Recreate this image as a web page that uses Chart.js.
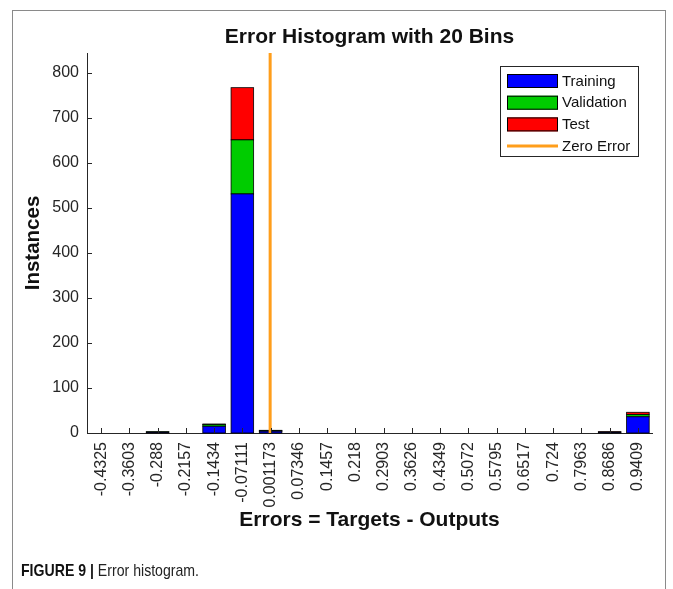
<!DOCTYPE html>
<html>
<head>
<meta charset="utf-8">
<script src="https://cdn.jsdelivr.net/npm/chart.js@4/dist/chart.umd.min.js"></script>
<style>
  html, body { margin: 0; padding: 0; background: #fff; }
  #wrap { position: relative; width: 673px; height: 589px; overflow: hidden; }
  #frame { position: absolute; left: 12px; top: 10px; width: 654px; height: 620px;
           border: 1px solid #8a8a8a; box-sizing: border-box; }
  #c { position: absolute; left: 0; top: 0; }
  #caption { position: absolute; left: 21px; top: 561px; white-space: nowrap;
             font-family: "Liberation Sans", Arial, sans-serif;
             font-size: 17px; color: #222;
             transform: scaleX(0.83); transform-origin: left center; }
  #caption b { color: #111; }
</style>
</head>
<body>
<div id="wrap">
  <div id="frame"></div>
  <canvas id="c" width="673" height="589"></canvas>
  <div id="caption"><b>FIGURE 9 |</b> Error histogram.</div>
</div>
<script>
// Bin centres of the 20-bin error histogram and their printed labels
const binCenters = [-0.4325, -0.3603, -0.288, -0.2157, -0.1434, -0.07111, 0.001173, 0.07346,
                    0.1457, 0.218, 0.2903, 0.3626, 0.4349, 0.5072, 0.5795, 0.6517, 0.724,
                    0.7963, 0.8686, 0.9409];
const binLabels = ['-0.4325', '-0.3603', '-0.288', '-0.2157', '-0.1434', '-0.07111', '0.001173',
                   '0.07346', '0.1457', '0.218', '0.2903', '0.3626', '0.4349', '0.5072', '0.5795',
                   '0.6517', '0.724', '0.7963', '0.8686', '0.9409'];

// Instances per bin for each data split
const training   = [0, 0, 2, 0, 15, 531, 4, 0, 0, 0, 0, 0, 0, 0, 0, 0, 0, 0, 2, 36];
const validation = [0, 0, 1, 0, 4, 120, 1, 0, 0, 0, 0, 0, 0, 0, 0, 0, 0, 0, 0, 5];
const test       = [0, 0, 0, 0, 1, 116, 1, 0, 0, 0, 0, 0, 0, 0, 0, 0, 0, 0, 1, 5];

// Axis limits (histogram edges and instance range)
const xLimits = [-0.4686, 0.9770];
const yLimits = [0, 844];
const yTickStep = 100;
const zeroError = 0;

const FONT = '"Liberation Sans", Arial, Helvetica, sans-serif';
Chart.defaults.font.family = FONT;
Chart.defaults.color = '#262626';

const toPoints = (vals) => vals.map((v, i) => ({ x: binCenters[i], y: v }));

// Thin black edges centred on each bar segment boundary
const barEdges = {
  id: 'barEdges',
  afterDatasetDraw(chart, args) {
    const meta = args.meta;
    if (meta.type !== 'bar') return;
    const { ctx } = chart;
    ctx.save();
    ctx.strokeStyle = '#000';
    ctx.lineWidth = 0.8;
    meta.data.forEach((el, i) => {
      const ds = chart.data.datasets[meta.index];
      if (!ds.data[i] || ds.data[i].y <= 0) return;
      const { x, y, base, width } = el.getProps(['x', 'y', 'base', 'width'], true);
      ctx.strokeRect(x - width / 2, Math.min(y, base), width, Math.abs(base - y));
    });
    ctx.restore();
  }
};

// Legend drawn inside the plot area, top-right corner
const insideLegend = {
  id: 'insideLegend',
  afterDatasetsDraw(chart) {
    const { ctx, chartArea } = chart;
    const w = 139, h = 91;
    const x0 = chartArea.right - 13 - w, y0 = chartArea.top + 13;
    ctx.save();
    ctx.fillStyle = '#fff';
    ctx.fillRect(x0, y0, w, h);
    ctx.strokeStyle = '#262626';
    ctx.lineWidth = 1;
    ctx.strokeRect(x0 + 0.5, y0 + 0.5, w - 1, h - 1);
    ctx.font = '15px ' + FONT;
    ctx.textBaseline = 'middle';
    const rowH = 21.7;
    chart.data.datasets.forEach((ds, i) => {
      const cy = y0 + 15 + i * rowH;
      const sx = x0 + 7, sw = 51;
      if (ds.type === 'line') {
        ctx.strokeStyle = ds.borderColor;
        ctx.lineWidth = 3;
        ctx.beginPath();
        ctx.moveTo(sx, cy);
        ctx.lineTo(sx + sw, cy);
        ctx.stroke();
      } else {
        ctx.fillStyle = ds.backgroundColor;
        ctx.fillRect(sx, cy - 7, sw, 14);
        ctx.strokeStyle = '#000';
        ctx.lineWidth = 1;
        ctx.strokeRect(sx + 0.5, cy - 6.5, sw - 1, 13);
      }
      ctx.fillStyle = '#111';
      ctx.textAlign = 'left';
      ctx.fillText(ds.label, sx + sw + 4, cy + 0.5);
    });
    ctx.restore();
  }
};

// Tick marks pointing into the plot area
const inwardTicks = {
  id: 'inwardTicks',
  afterDraw(chart) {
    const { ctx, chartArea, scales } = chart;
    ctx.save();
    ctx.strokeStyle = '#262626';
    ctx.lineWidth = 1;
    ctx.beginPath();
    scales.x.ticks.forEach((t) => {
      const px = Math.round(scales.x.getPixelForValue(t.value)) + 0.5;
      ctx.moveTo(px, chartArea.bottom);
      ctx.lineTo(px, chartArea.bottom - 5);
    });
    scales.y.ticks.forEach((t) => {
      const py = Math.round(scales.y.getPixelForValue(t.value)) + 0.5;
      ctx.moveTo(chartArea.left, py);
      ctx.lineTo(chartArea.left + 5, py);
    });
    ctx.stroke();
    ctx.restore();
  }
};

const barStyle = {
  type: 'bar',
  stack: 'errors',
  xAxisID: 'x',
  yAxisID: 'y',
  borderWidth: 0,
  inflateAmount: 0,
  barPercentage: 0.8,
  categoryPercentage: 1.0,
  order: 1
};

new Chart(document.getElementById('c'), {
  type: 'bar',
  data: {
    datasets: [
      { ...barStyle, label: 'Training',   data: toPoints(training),   backgroundColor: '#0000ff' },
      { ...barStyle, label: 'Validation', data: toPoints(validation), backgroundColor: '#00cc00' },
      { ...barStyle, label: 'Test',       data: toPoints(test),       backgroundColor: '#ff0000' },
      {
        type: 'line',
        label: 'Zero Error',
        xAxisID: 'x',
        yAxisID: 'y',
        data: [{ x: zeroError, y: yLimits[0] }, { x: zeroError, y: yLimits[1] }],
        borderColor: '#ff9e1b',
        borderWidth: 3,
        pointRadius: 0,
        fill: false,
        order: 0
      }
    ]
  },
  options: {
    responsive: false,
    animation: false,
    events: [],
    layout: { padding: { left: 0, right: 21, top: 0, bottom: 56 } },
    plugins: {
      legend: { display: false },
      tooltip: { enabled: false },
      title: { display: false }
    },
    scales: {
      x: {
        type: 'linear',
        position: 'bottom',
        min: xLimits[0],
        max: xLimits[1],
        offset: false,
        grid: { display: false, drawTicks: false, offset: false },
        border: { display: true, color: '#262626', width: 1 },
        afterBuildTicks: (scale) => { scale.ticks = binCenters.map((v) => ({ value: v })); },
        afterFit: (scale) => { scale.height = 100; },
        ticks: {
          autoSkip: false,
          maxRotation: 90,
          minRotation: 90,
          padding: 9,
          font: { size: 16 },
          callback: (value, index) => binLabels[index]
        },
        title: {
          display: true,
          text: 'Errors = Targets - Outputs',
          color: '#111',
          font: { size: 21, weight: 'bold' },
          padding: { top: 0, bottom: 0 }
        }
      },
      // Plot heading, centred over the plotting area
      xTop: {
        type: 'linear',
        position: 'top',
        min: xLimits[0],
        max: xLimits[1],
        offset: false,
        grid: { display: false, drawTicks: false },
        border: { display: false },
        ticks: { display: false },
        afterFit: (scale) => { scale.height = 53; },
        title: {
          display: true,
          text: 'Error Histogram with 20 Bins',
          color: '#111',
          font: { size: 21, weight: 'bold' },
          padding: { top: 25, bottom: 3 }
        }
      },
      y: {
        min: yLimits[0],
        max: yLimits[1],
        grid: { display: false, drawTicks: false },
        border: { display: true, color: '#262626', width: 1 },
        afterBuildTicks: (scale) => {
          scale.ticks = scale.ticks.filter((t) => t.value % yTickStep === 0);
        },
        afterFit: (scale) => { scale.width = 87; },
        ticks: { stepSize: yTickStep, padding: 8, font: { size: 16 } },
        title: {
          display: true,
          text: 'Instances',
          color: '#111',
          font: { size: 20.5, weight: 'bold' },
          padding: { top: 21, bottom: 0 }
        }
      }
    }
  },
  plugins: [barEdges, inwardTicks, insideLegend]
});
</script>
</body>
</html>
